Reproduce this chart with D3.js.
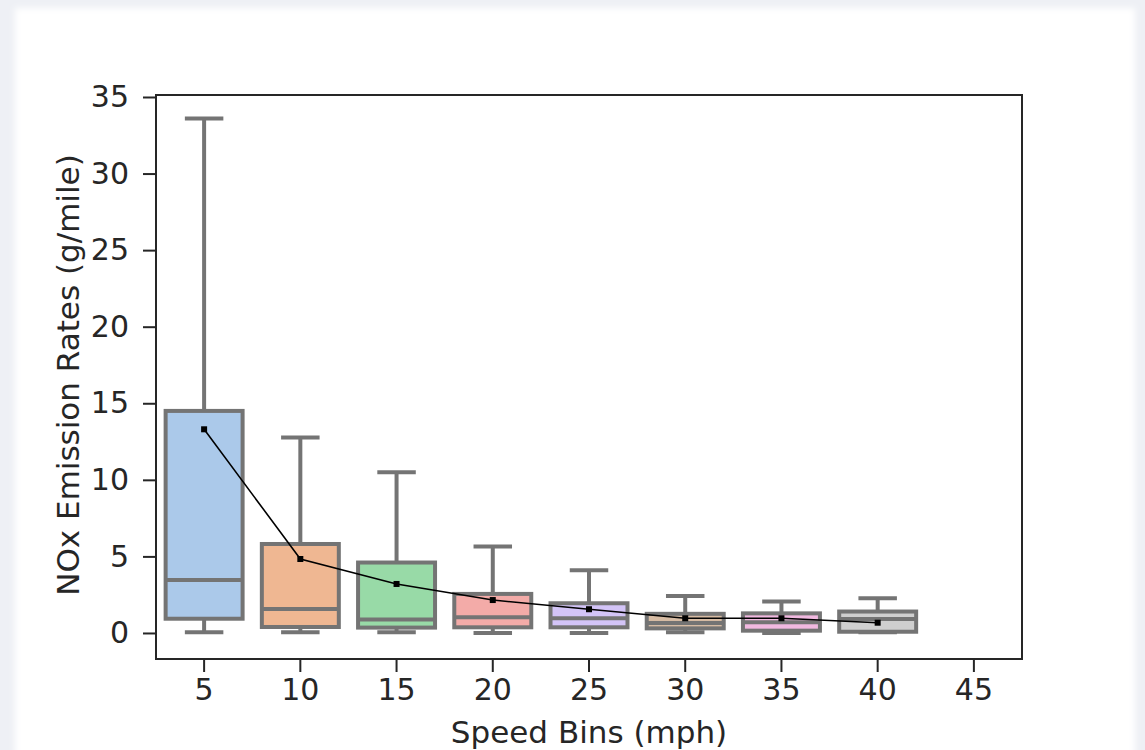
<!DOCTYPE html>
<html>
<head>
<meta charset="utf-8">
<script src="https://cdn.jsdelivr.net/npm/d3@7"></script>
<style>
  html, body { margin: 0; padding: 0; background: #eef0f5; }
  svg { display: block; }
  text { font-family: "DejaVu Sans", sans-serif; fill: #262626; }
</style>
</head>
<body>
<svg id="chart" width="1145" height="750"></svg>
<script>
// Speed bins (mph) shown on the x axis; the last bin has no data
const speedBins = [5, 10, 15, 20, 25, 30, 35, 40, 45];
// Box statistics per bin (g/mile)
const whiskerLow  = [0.05, 0.05, 0.05, 0.00, 0.00, 0.05, 0.00, 0.05];
const q1Values    = [0.93, 0.39, 0.35, 0.37, 0.37, 0.30, 0.15, 0.08];
const medians     = [3.46, 1.57, 0.88, 1.02, 0.96, 0.65, 0.70, 0.91];
const q3Values    = [14.5, 5.81, 4.60, 2.55, 1.94, 1.25, 1.28, 1.40];
const whiskerHigh = [33.6, 12.76, 10.5, 5.64, 4.10, 2.42, 2.05, 2.27];
// Mean emission rate per bin, joined by a line
const means       = [13.3, 4.83, 3.20, 2.15, 1.55, 0.96, 0.96, 0.67];
const yTicks = [0, 5, 10, 15, 20, 25, 30, 35];
// seaborn "pastel" palette
const pastel = ["#a1c9f4", "#ffb482", "#8de5a1", "#ff9f9b", "#d0bbff", "#debb9b", "#fab0e4", "#cfcfcf"];

const svg = d3.select("#chart");
const W = 1145, H = 750;

// backdrop with a soft white panel
const defs = svg.append("defs");
defs.append("filter").attr("id", "soft")
  .attr("x", "-5%").attr("y", "-5%").attr("width", "110%").attr("height", "110%")
  .append("feGaussianBlur").attr("stdDeviation", 3);
svg.append("rect").attr("width", W).attr("height", H).attr("fill", "#eef0f5");
svg.append("rect").attr("x", 15).attr("y", 8).attr("width", 1120).attr("height", 760)
  .attr("fill", "#ffffff").attr("filter", "url(#soft)");

const frame = {left: 156, right: 1022, top: 95, bottom: 659};

const x = d3.scaleBand()
  .domain(speedBins.map(String))
  .range([frame.left, frame.right])
  .paddingInner(0).paddingOuter(0);
const y = d3.scaleLinear()
  .domain([-1.70, 35.13])
  .range([frame.bottom, frame.top]);

// desaturate like seaborn boxplot (saturation * 0.75)
const boxColors = pastel.map(c => { const h = d3.hsl(c); h.s *= 0.75; return h.formatHex(); });

const bw = x.bandwidth();
const boxW = bw * 0.8;
const capW = boxW * 0.5;
const lineGray = "#747474";
const lw = 4;

const boxes = svg.append("g");
medians.forEach((m, i) => {
  const cx = x(String(speedBins[i])) + bw / 2;
  const g = boxes.append("g");
  // whiskers
  g.append("line").attr("x1", cx).attr("x2", cx)
    .attr("y1", y(q3Values[i])).attr("y2", y(whiskerHigh[i]))
    .attr("stroke", lineGray).attr("stroke-width", lw);
  g.append("line").attr("x1", cx).attr("x2", cx)
    .attr("y1", y(q1Values[i])).attr("y2", y(whiskerLow[i]))
    .attr("stroke", lineGray).attr("stroke-width", lw);
  // caps
  [whiskerHigh[i], whiskerLow[i]].forEach(v => {
    g.append("line").attr("x1", cx - capW / 2).attr("x2", cx + capW / 2)
      .attr("y1", y(v)).attr("y2", y(v))
      .attr("stroke", lineGray).attr("stroke-width", lw);
  });
  // box
  g.append("rect")
    .attr("x", cx - boxW / 2).attr("width", boxW)
    .attr("y", y(q3Values[i])).attr("height", y(q1Values[i]) - y(q3Values[i]))
    .attr("fill", boxColors[i]).attr("stroke", lineGray).attr("stroke-width", lw);
  // median
  g.append("line").attr("x1", cx - boxW / 2).attr("x2", cx + boxW / 2)
    .attr("y1", y(m)).attr("y2", y(m))
    .attr("stroke", lineGray).attr("stroke-width", lw);
});

// mean line with markers
const meanPts = means.map((v, i) => [x(String(speedBins[i])) + bw / 2, y(v)]);
svg.append("path")
  .attr("d", d3.line()(meanPts))
  .attr("fill", "none").attr("stroke", "#000").attr("stroke-width", 1.6);
svg.append("g").selectAll("rect").data(meanPts).join("rect")
  .attr("x", d => d[0] - 3).attr("y", d => d[1] - 3)
  .attr("width", 6).attr("height", 6).attr("fill", "#000");

// frame
svg.append("rect")
  .attr("x", frame.left).attr("y", frame.top)
  .attr("width", frame.right - frame.left).attr("height", frame.bottom - frame.top)
  .attr("fill", "none").attr("stroke", "#262626").attr("stroke-width", 2);

// axes
const fs = 30;
const xAxis = d3.axisBottom(x).tickSize(13).tickPadding(7);
const gx = svg.append("g").attr("transform", `translate(0,${frame.bottom})`).call(xAxis);
const yAxis = d3.axisLeft(y).tickValues(yTicks).tickSize(13).tickPadding(14);
const gy = svg.append("g").attr("transform", `translate(${frame.left},0)`).call(yAxis);
[gx, gy].forEach(g => {
  g.select(".domain").remove();
  g.selectAll(".tick line").attr("stroke", "#262626").attr("stroke-width", 2);
  g.selectAll(".tick text").attr("font-size", fs).attr("fill", "#262626")
    .style("font-family", "'DejaVu Sans', sans-serif");
});

// axis titles
const titleFs = 31;
svg.append("text")
  .attr("x", (frame.left + frame.right) / 2).attr("y", 743)
  .attr("text-anchor", "middle").attr("font-size", titleFs)
  .text("Speed Bins (mph)");
svg.append("text")
  .attr("transform", `translate(79,${(frame.top + frame.bottom) / 2 - 2}) rotate(-90)`)
  .attr("text-anchor", "middle").attr("font-size", titleFs)
  .text("NOx Emission Rates (g/mile)");
</script>
</body>
</html>
